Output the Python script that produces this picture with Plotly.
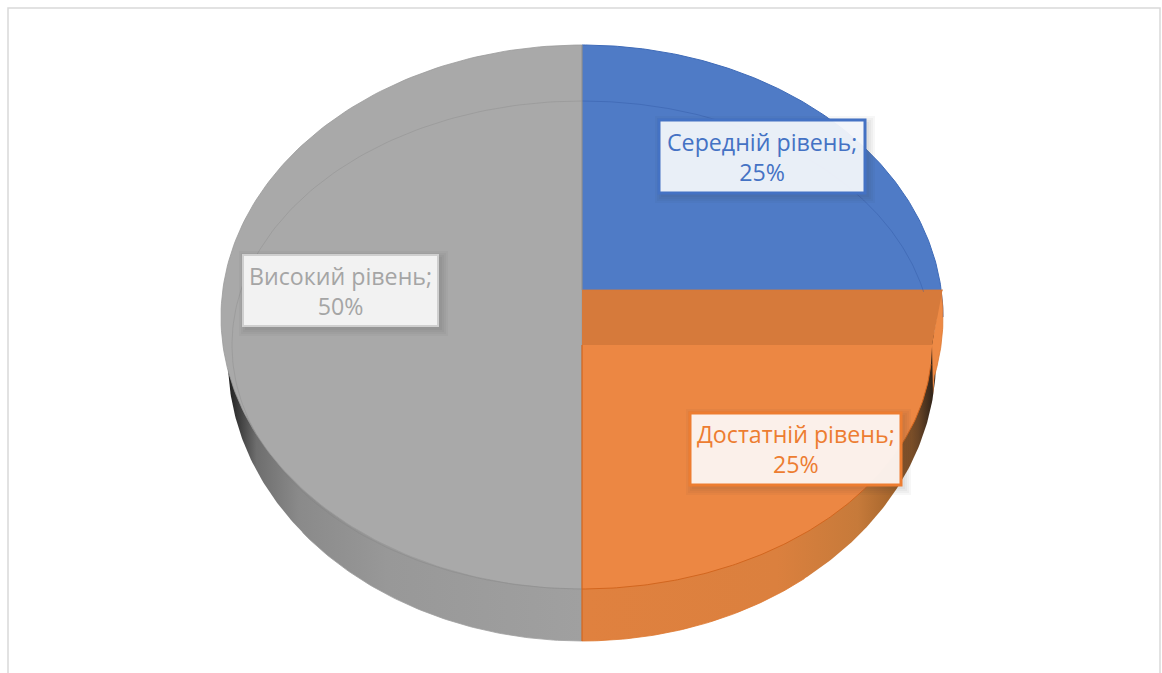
import numpy as np
import plotly.graph_objects as go

categories = ["Середній рівень", "Достатній рівень", "Високий рівень"]
values = [25, 25, 50]
face_colors = ["#4F7BC6", "#EC8743", "#A9A9A9"]
edge_colors = ["#3F6BB8", "#D2661F", "#939393"]
text_colors = ["#4472C4", "#ED7D31", "#A5A5A5"]
box_fills = ["rgba(242,245,251,0.95)", "rgba(252,244,239,0.97)", "#F2F2F2"]
box_edges = ["#4472C4", "#ED7D31", "#CFCFCF"]
box_widths = [3, 3, 2]
boxes = [(659, 865, 120, 193), (690, 901, 413, 485), (243, 438, 255, 326)]
font_size = 23.2

W, H = 1162, 673
CX = 582
OUT = (317, 361, 272)    # outer silhouette: centre y, rx, ry
TOP = (345, 350, 244)    # true top face
BOT = (360, 354, 281)    # bottom rim


def arc(ell, a0, a1, n=160):
    cy, rx, ry = ell
    t = np.radians(np.linspace(a0, a1, n))
    return CX + rx * np.sin(t), cy - ry * np.cos(t)


total = sum(values)
edges = np.cumsum([0] + values) / total * 360
fig = go.Figure()


def poly(x, y, fill=None, line=None, lw=0, grad=None):
    kw = dict(x=list(x), y=list(y), mode="lines", hoverinfo="skip", showlegend=False)
    if grad is not None:
        kw.update(fill="toself", fillgradient=dict(type="horizontal", colorscale=grad))
    elif fill is not None:
        kw.update(fill="toself", fillcolor=fill)
    kw["line"] = dict(color=line or "rgba(0,0,0,0)", width=lw)
    fig.add_trace(go.Scatter(**kw))


# side walls
gx, gy = arc(BOT, edges[2], 270 + 15)
poly(np.r_[gx, CX], np.r_[gy, 330], grad=[
    [0, "#1E1E1E"], [0.03, "#3C3C3C"], [0.08, "#6E6E6E"],
    [0.2, "#8A8A8A"], [0.45, "#989898"], [1, "#A0A0A0"]])
ox, oy = arc(BOT, 75, edges[2])
poly(np.r_[CX, ox, CX], np.r_[330, oy, 641], grad=[
    [0, "#E0813F"], [0.55, "#DB803E"], [0.78, "#C67A3A"],
    [0.88, "#A5652C"], [0.95, "#6A4526"], [1, "#241C16"]])
poly(gx[:80], gy[:80], None, "#A0A0A0", 0.8)
poly(ox[-60:], oy[-60:], None, "#DD772F", 0.8)

# upper faces
bx, by = arc(OUT, edges[0], edges[1])
poly(np.r_[CX, bx, CX], np.r_[OUT[0], by, OUT[0]], face_colors[0], edge_colors[0], 1)
gx, gy = arc(OUT, edges[2], edges[3])
poly(np.r_[CX, gx, CX], np.r_[OUT[0], gy, OUT[0]], face_colors[2], "#9A9A9A", 0.8)

# cut faces between the raised slice and the orange top
ys = np.linspace(290, 375, 40)
sil = CX + OUT[1] * np.sqrt(1 - ((ys - OUT[0]) / OUT[2]) ** 2)
poly(np.r_[sil, 933, 932], np.r_[ys, 395, 345], "#EE8A45")
poly(sil, ys, None, "#DD772F", 0.8)
poly([CX, 942.5, 932, CX], [290, 290, 345, 345], "#D67A3B")

# top face of the orange slice
ox, oy = arc(TOP, edges[1], edges[2])
poly(np.r_[CX, ox, CX], np.r_[TOP[0], oy, TOP[0]], face_colors[1])
poly(ox[8:], oy[8:], None, edge_colors[1], 1)
poly([CX, CX], [345, 641], None, edge_colors[1], 1.2)
poly([CX, 943], [290, 290], None, "#DB7A35", 0.8)

# faint rim of the top face
rx_, ry_ = arc(TOP, 180, 360)
poly(rx_, ry_, None, "rgba(125,125,125,0.35)", 0.8)
rx_, ry_ = arc(TOP, 0, 77.4)
poly(rx_, ry_, None, "rgba(50,90,165,0.55)", 0.8)
poly([CX, CX], [45, 290], None, "#8F8F8F", 0.8)

shapes = [dict(type="rect", xref="x", yref="y", x0=8, x1=1160, y0=8, y1=720,
               line=dict(color="#D9D9D9", width=1.5), fillcolor="rgba(0,0,0,0)", layer="below")]
annots = []
for cat, val, tc, bf, be, bw, (x0, x1, y0, y1) in zip(categories, values, text_colors, box_fills,
                                                      box_edges, box_widths, boxes):
    for grow in (7, 5, 3, 1):
        shapes.append(dict(type="rect", xref="x", yref="y", x0=x0 + 3 - grow, x1=x1 + 3 + grow,
                           y0=y0 + 3 - grow, y1=y1 + 3 + grow, line=dict(width=0),
                           fillcolor="rgba(60,60,60,0.04)", layer="above"))
    shapes.append(dict(type="rect", xref="x", yref="y", x0=x0, x1=x1, y0=y0, y1=y1,
                       line=dict(color=be, width=bw), fillcolor=bf, layer="above"))
    annots.append(dict(x=(x0 + x1) / 2, y=(y0 + y1) / 2, xref="x", yref="y", showarrow=False,
                       text=f"{cat};<br>{val}%", align="center",
                       font=dict(family="Open Sans", size=font_size, color=tc)))

fig.update_layout(
    width=W, height=H, autosize=False, margin=dict(l=0, r=0, t=0, b=0),
    paper_bgcolor="white", plot_bgcolor="white", showlegend=False,
    xaxis=dict(range=[0, W], visible=False, fixedrange=True),
    yaxis=dict(range=[H, 0], visible=False, fixedrange=True),
    shapes=shapes, annotations=annots,
)
fig.write_html("out.html", config={"displayModeBar": False},
               post_script="document.body.style.margin='0';")
